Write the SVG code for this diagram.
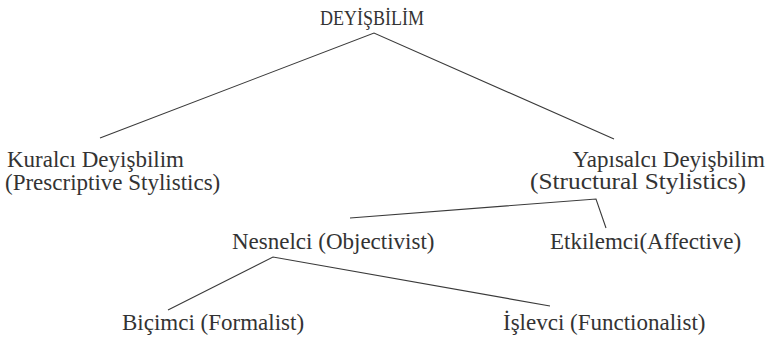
<svg xmlns="http://www.w3.org/2000/svg" width="767" height="343" viewBox="0 0 767 343">
<style>
  .t { font-family: "Liberation Serif", "Times New Roman", serif; font-size: 23px; fill: #333333; }
  .c { stroke: #3a3a3a; stroke-width: 1.1; fill: none; }
</style>
<rect width="767" height="343" fill="#ffffff"/>
<g id="connectors">
  <polyline class="c" points="100,138 374,33 614,139"/>
  <polyline class="c" points="350,218 596,199 606,228"/>
  <polyline class="c" points="168,310 273,257 550,306"/>
</g>
<g id="root"><text class="t" x="320" y="25" style="font-size:20px" textLength="104" lengthAdjust="spacingAndGlyphs">DEYİŞBİLİM</text></g>
<g id="kuralci">
  <text class="t" x="7" y="167">Kuralcı Deyişbilim</text>
  <text class="t" x="5" y="190">(Prescriptive Stylistics)</text>
</g>
<g id="yapisalci">
  <text class="t" x="765" y="167" text-anchor="end">Yapısalcı Deyişbilim</text>
  <text class="t" x="530" y="189" textLength="216" lengthAdjust="spacingAndGlyphs">(Structural Stylistics)</text>
</g>
<g id="nesnelci"><text class="t" x="232" y="249">Nesnelci (Objectivist)</text></g>
<g id="etkilemci"><text class="t" x="550" y="249">Etkilemci(Affective)</text></g>
<g id="bicimci"><text class="t" x="122" y="330">Biçimci (Formalist)</text></g>
<g id="islevci"><text class="t" x="503" y="330">İşlevci (Functionalist)</text></g>
</svg>
